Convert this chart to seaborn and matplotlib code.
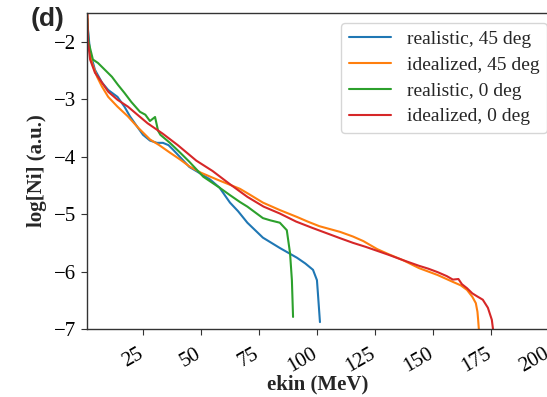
import numpy as np
import pandas as pd
import matplotlib
matplotlib.use("Agg")
import matplotlib.pyplot as plt
import matplotlib.transforms as mtransforms
from matplotlib.lines import Line2D
import seaborn as sns

labels = ["realistic, 45 deg", "idealized, 45 deg", "realistic, 0 deg", "idealized, 0 deg"]
colors = ["#1f77b4", "#ff7f0e", "#2ca02c", "#d62728"]

x_real45 = [1.2, 2.2, 4.3, 7.3, 10, 14, 17, 19.4, 22, 25, 28, 31, 33.6, 36, 38, 41.5, 45, 50, 54, 58,
            62.5, 66, 70, 76.7, 84, 91.4, 95, 98.3, 100, 100.4, 101.3]
y_real45 = [-1.75, -2.19, -2.49, -2.71, -2.84, -2.96, -3.13, -3.30, -3.45, -3.62, -3.72, -3.76, -3.76,
            -3.80, -3.88, -4.03, -4.18, -4.30, -4.40, -4.54, -4.80, -4.95, -5.15, -5.41, -5.59, -5.76,
            -5.86, -5.97, -6.15, -6.37, -6.88]

x_ideal45 = [1.0, 1.3, 3, 5.2, 7.3, 10, 14, 18.5, 23, 28, 32, 36.6, 41, 45, 50, 57, 62.5, 66.8, 71,
             76.7, 84, 91.4, 96, 101, 110, 115.5, 120, 123, 126, 131, 137, 144, 152, 158.6, 162,
             164.7, 167, 168.5, 169.2, 169.5, 169.8]
y_ideal45 = [-1.5, -2.0, -2.37, -2.61, -2.78, -2.96, -3.13, -3.30, -3.50, -3.70, -3.80, -3.93, -4.05,
             -4.17, -4.28, -4.40, -4.49, -4.56, -4.66, -4.80, -4.93, -5.05, -5.13, -5.21, -5.31,
             -5.39, -5.47, -5.54, -5.61, -5.70, -5.80, -5.94, -6.06, -6.18, -6.24, -6.32, -6.44,
             -6.55, -6.70, -6.84, -7.0]

x_real0 = [1.0, 1.5, 3.4, 5.6, 8.6, 11.6, 14.2, 17, 20, 23.7, 26, 28, 30.2, 31.5, 32.5, 36.6, 41, 45,
           51, 58, 62.5, 66.8, 70, 76.7, 80, 84, 87, 88.4, 89.2, 89.7]
y_real0 = [-1.6, -2.0, -2.31, -2.37, -2.49, -2.61, -2.75, -2.89, -3.05, -3.22, -3.27, -3.38, -3.31,
           -3.55, -3.62, -3.76, -3.93, -4.09, -4.35, -4.54, -4.67, -4.79, -4.87, -5.07, -5.11,
           -5.15, -5.28, -5.68, -6.15, -6.79]

x_ideal0 = [1.0, 1.3, 2.2, 4.3, 7.3, 10, 14, 18.5, 22, 27, 33.5, 40, 48, 55, 62.5, 70, 77, 84, 91, 98,
            104, 110, 115.5, 121, 126, 131, 137, 144, 148, 152, 156, 158.6, 161, 162.5, 164.7, 167,
            169, 171.5, 173.7, 175.4, 175.9]
y_ideal0 = [-1.5, -2.0, -2.31, -2.54, -2.71, -2.87, -3.01, -3.13, -3.25, -3.42, -3.60, -3.80, -4.07,
            -4.25, -4.48, -4.70, -4.87, -4.99, -5.13, -5.24, -5.33, -5.42, -5.50, -5.57, -5.64,
            -5.71, -5.80, -5.90, -5.95, -6.01, -6.08, -6.14, -6.13, -6.22, -6.29, -6.38, -6.43,
            -6.49, -6.63, -6.84, -7.0]

x_ticks = [25, 50, 75, 100, 125, 150, 175, 200]
y_ticks = [-7, -6, -5, -4, -3, -2]

frames = []
for lab, xs, ys in zip(labels, [x_real45, x_ideal45, x_real0, x_ideal0],
                       [y_real45, y_ideal45, y_real0, y_ideal0]):
    frames.append(pd.DataFrame({"ekin": xs, "logNi": ys, "case": lab}))
df = pd.concat(frames, ignore_index=True)

sns.set_style("ticks")
plt.rcParams["font.family"] = ["Liberation Serif", "DejaVu Serif"]

fig = plt.figure(figsize=(5.47, 3.97), dpi=100)
ax = fig.add_axes([87 / 547, 1 - 329 / 397, (557 - 87) / 547, (329 - 13) / 397])

sns.lineplot(data=df, x="ekin", y="logNi", hue="case", hue_order=labels,
             palette=colors, sort=False, estimator=None, linewidth=1.5, ax=ax, legend=False)

ax.set_xlim(0.86, 203.5)
ax.set_ylim(-7, -1.5)
ax.set_xticks(x_ticks)
ax.set_yticks(y_ticks)
ax.set_yticklabels([f"\u2212{abs(v)}" for v in y_ticks], fontsize=15)
ax.set_xticklabels([str(v) for v in x_ticks], fontsize=15, rotation=30, ha="right",
                   rotation_mode="anchor")
ax.tick_params(axis="both", length=4, width=0.8, colors="#333333", labelcolor="black")
ax.tick_params(axis="x", pad=7)
shift = mtransforms.ScaledTranslation(-6 / 100, 0, fig.dpi_scale_trans)
for lbl in ax.get_xticklabels():
    lbl.set_transform(lbl.get_transform() + shift)
for side in ["left", "bottom", "top"]:
    ax.spines[side].set_visible(True)
    ax.spines[side].set_color("#333333")
    ax.spines[side].set_linewidth(1.0)
ax.spines["right"].set_visible(False)

ax.set_xlabel("ekin (MeV)", fontsize=15, fontweight="bold")
ax.xaxis.set_label_coords((318 - 87) / 470, -(374 - 329) / 316)
ax.set_ylabel("log[Ni] (a.u.)", fontsize=15, fontweight="bold", labelpad=5)

handles = [Line2D([0], [0], color=c, lw=1.5) for c in colors]
ax.legend(handles, labels, loc="upper right", fontsize=14, frameon=True,
          labelspacing=0.42, handlelength=2.2, handletextpad=0.8, borderaxespad=0.5)

fig.text(31 / 547, 1 - 7 / 397, "(d)", fontsize=19, fontweight="bold",
         family=["Liberation Sans", "DejaVu Sans"], va="top", ha="left")

fig.savefig("out.png", dpi=100)
